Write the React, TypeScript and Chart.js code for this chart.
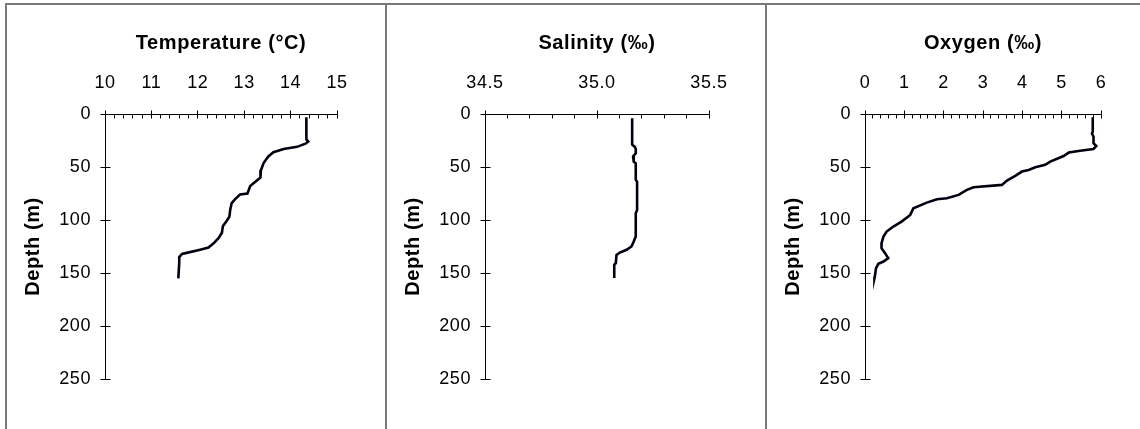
import React, { useEffect, useRef } from "react";
import { Chart, registerables } from "chart.js";

Chart.register(...registerables);

// ---- Data ----
const depthTicks = [0, 50, 100, 150, 200, 250];

const temperatureTicks = [10, 11, 12, 13, 14, 15];
const temperatureDepth = [3, 24, 26, 28, 31, 33, 36, 40, 46, 53, 60, 64, 68, 75, 76, 80, 84, 90, 97, 101, 106, 112, 117, 122, 126, 128, 131, 132, 135, 140, 155];
const temperatureValues = [14.34, 14.34, 14.38, 14.32, 14.14, 13.85, 13.63, 13.52, 13.42, 13.36, 13.35, 13.24, 13.13, 13.07, 12.91, 12.81, 12.73, 12.7, 12.68, 12.62, 12.54, 12.52, 12.45, 12.34, 12.23, 12.05, 11.76, 11.66, 11.6, 11.6, 11.58];

const salinityTicks = [34.5, 35.0, 35.5];
const salinityDepth = [4, 29, 31, 33, 37, 40, 45, 46.5, 62, 64, 90.5, 93.6, 115.6, 120.3, 125, 128.1, 130.7, 132.9, 140.7, 142.3, 154.8];
const salinityValues = [35.157, 35.157, 35.169, 35.173, 35.173, 35.161, 35.164, 35.173, 35.173, 35.179, 35.179, 35.173, 35.173, 35.164, 35.154, 35.132, 35.102, 35.087, 35.084, 35.077, 35.077];

const oxygenTicks = [0, 1, 2, 3, 4, 5, 6];
const oxygenDepth = [3, 16.7, 18.2, 21.4, 27.6, 30.2, 33, 34.6, 36.4, 39.6, 44.9, 48, 50.2, 52.8, 54.3, 58.4, 62.8, 66.9, 69.1, 71.6, 76.3, 79.5, 80.4, 83.6, 88.9, 95.2, 101.5, 106.2, 110.9, 115.6, 121.9, 126.6, 131.3, 136, 139.2, 141.3, 145.4, 153.3, 155];
const oxygenValues = [5.79, 5.79, 5.77, 5.81, 5.81, 5.88, 5.81, 5.47, 5.18, 5.05, 4.71, 4.58, 4.33, 4.16, 3.99, 3.82, 3.61, 3.48, 2.76, 2.59, 2.38, 2.08, 1.83, 1.57, 1.23, 1.15, 0.93, 0.72, 0.55, 0.47, 0.42, 0.42, 0.51, 0.59, 0.47, 0.34, 0.28, 0.25, 0.24];

// ---- Panel configuration ----
const FONT = "'Liberation Sans', Arial, Helvetica, sans-serif";
const PANEL_W = 380;
const PANEL_H = 429;

const panels = [
  { title: "Temperature (°C)", depth: temperatureDepth, values: temperatureValues, ticks: temperatureTicks, minor: 0.2, digits: 0, plotWidth: 232 },
  { title: "Salinity (‰)", depth: salinityDepth, values: salinityValues, ticks: salinityTicks, minor: 0.1, digits: 1, plotWidth: 224 },
  { title: "Oxygen (‰)", depth: oxygenDepth, values: oxygenValues, ticks: oxygenTicks, minor: 0.2, digits: 0, plotWidth: 236 },
];

const align = (p: number) => Math.round(p - 0.5) + 0.5;

const letterSpacingPlugin = {
  id: "letterSpacing",
  beforeLayout(chart: any) {
    (chart.ctx as any).letterSpacing = "0.6px";
  },
  beforeDraw(chart: any) {
    (chart.ctx as any).letterSpacing = "0.6px";
  },
};

const tickMarksPlugin = {
  id: "tickMarks",
  afterDraw(chart: any, _args: any, opts: any) {
    const { ctx } = chart;
    const xs = chart.scales.x;
    const ys = chart.scales.y;
    ctx.save();
    ctx.strokeStyle = "#000";
    ctx.lineWidth = 1;
    ctx.beginPath();
    const axisY = align(xs.bottom);
    const min = xs.min;
    const max = xs.max;
    const minor = opts.minor;
    const n = Math.round((max - min) / minor);
    const majorEvery = Math.round((opts.ticks[1] - opts.ticks[0]) / minor);
    for (let i = 0; i <= n; i++) {
      const v = min + i * minor;
      const px = align(xs.getPixelForValue(v));
      if (i % majorEvery === 0) {
        ctx.moveTo(px, axisY - 4);
        ctx.lineTo(px, axisY + 4);
      } else {
        ctx.moveTo(px, axisY);
        ctx.lineTo(px, axisY + 4);
      }
    }
    const axisX = align(ys.right);
    for (const t of depthTicks) {
      const py = align(ys.getPixelForValue(t));
      ctx.moveTo(axisX - 5, py);
      ctx.lineTo(axisX + 5, py);
    }
    ctx.stroke();
    ctx.restore();
  },
};

function Panel({ cfg, left }: { cfg: any; left: number }) {
  const ref = useRef<HTMLCanvasElement | null>(null);
  useEffect(() => {
    if (!ref.current) return;
    const data = cfg.depth.map((d: number, i: number) => ({ x: cfg.values[i], y: d }));
    const chart = new Chart(ref.current, {
      type: "scatter",
      data: {
        datasets: [
          {
            data,
            showLine: true,
            borderColor: "#000010",
            borderWidth: 2.6,
            pointRadius: 0,
            tension: 0,
            fill: false,
          },
        ],
      },
      options: {
        responsive: false,
        animation: false,
        devicePixelRatio: 1,
        layout: { padding: { left: 0, top: 0, right: PANEL_W - 100 - cfg.plotWidth, bottom: 50 } },
        plugins: {
          legend: { display: false },
          tooltip: { enabled: false },
          tickMarks: { minor: cfg.minor, ticks: cfg.ticks },
        } as any,
        scales: {
          x: {
            type: "linear",
            position: "top",
            min: cfg.ticks[0],
            max: cfg.ticks[cfg.ticks.length - 1],
            afterBuildTicks: (s: any) => {
              s.ticks = cfg.ticks.map((v: number) => ({ value: v }));
            },
            afterFit: (s: any) => {
              s.height = 114;
            },
            ticks: {
              padding: 20,
              color: "#000",
              font: { family: FONT, size: 18 },
              maxRotation: 0,
              autoSkip: false,
              callback: (v: any) => Number(v).toFixed(cfg.digits),
            },
            grid: { display: false, drawTicks: false },
            border: { display: true, color: "#000", width: 1 },
            title: {
              display: true,
              text: cfg.title,
              color: "#000",
              font: { family: FONT, size: 20, weight: "bold" },
              padding: { top: 31, bottom: 0 },
            },
          },
          y: {
            type: "linear",
            position: "left",
            reverse: true,
            min: depthTicks[0],
            max: depthTicks[depthTicks.length - 1],
            afterBuildTicks: (s: any) => {
              s.ticks = depthTicks.map((v) => ({ value: v }));
            },
            afterFit: (s: any) => {
              s.width = 100;
            },
            ticks: {
              padding: 14,
              color: "#000",
              font: { family: FONT, size: 18 },
              autoSkip: false,
            },
            grid: { display: false, drawTicks: false },
            border: { display: true, color: "#000", width: 1 },
            title: {
              display: true,
              text: "Depth (m)",
              color: "#000",
              font: { family: FONT, size: 20, weight: "bold" },
              padding: { top: 16, bottom: 0 },
            },
          },
        },
      } as any,
      plugins: [letterSpacingPlugin, tickMarksPlugin],
    });
    return () => chart.destroy();
  }, [cfg]);
  return (
    <canvas
      ref={ref}
      width={PANEL_W}
      height={PANEL_H}
      style={{ position: "absolute", left, top: 0, width: PANEL_W, height: PANEL_H }}
    />
  );
}

export default function App() {
  const borderColor = "#7a7a7a";
  return (
    <div style={{ position: "absolute", left: 0, top: 0, width: 1140, height: 429, overflow: "hidden", background: "#fff" }}>
      {panels.map((p, i) => (
        <Panel key={i} cfg={p} left={5 + i * PANEL_W} />
      ))}
      <div style={{ position: "absolute", left: 5, top: 3, width: 1135, height: 2, background: borderColor }} />
      {[5, 385, 765].map((x) => (
        <div key={x} style={{ position: "absolute", left: x, top: 3, width: 2, height: 426, background: borderColor }} />
      ))}
    </div>
  );
}
